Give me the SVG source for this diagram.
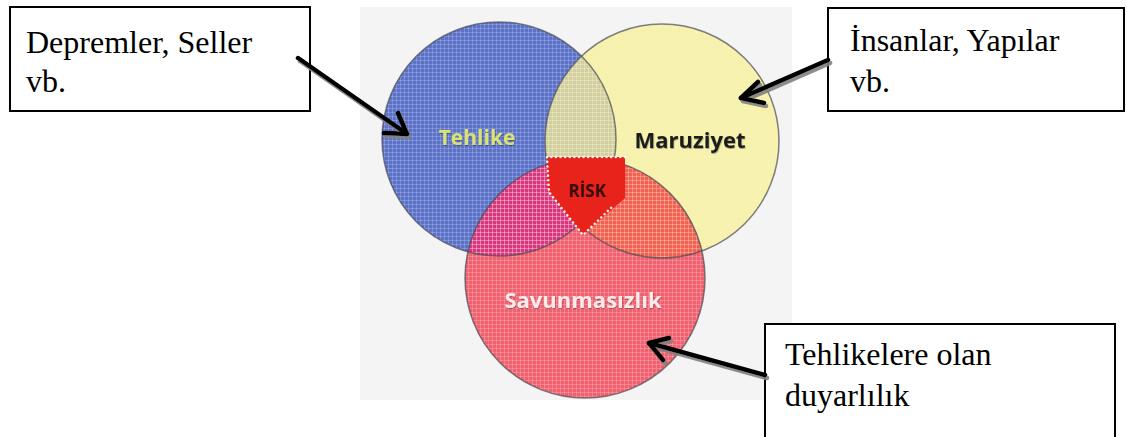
<svg xmlns="http://www.w3.org/2000/svg" width="1127" height="437" viewBox="0 0 1127 437">
<style>
.box{fill:#fff;stroke:#000;stroke-width:2}
.btxt{font-family:"Liberation Serif","Times New Roman",serif;font-size:32px;fill:#000}
.ctxt{font-family:"Open Sans","DejaVu Sans",sans-serif;font-weight:bold;text-anchor:middle}
.ring{fill:none;stroke:#4a4a55;stroke-opacity:0.7;stroke-width:1.5}
.conn{stroke:#000;stroke-width:4.5;fill:none;stroke-linecap:round;stroke-linejoin:round}
</style>
<defs>
<pattern id="grid" width="4" height="4" patternUnits="userSpaceOnUse">
<path d="M0,0.5H4M0.5,0V4" stroke="#fff" stroke-opacity="0.2" stroke-width="1"/>
</pattern>
<clipPath id="cBlue"><circle cx="499" cy="139" r="117"/></clipPath>
<clipPath id="cYellow"><circle cx="662" cy="141" r="117"/></clipPath>
<clipPath id="cRed"><circle cx="585" cy="278" r="120"/></clipPath>
<filter id="shadow" x="-20%" y="-20%" width="140%" height="140%">
<feDropShadow dx="2" dy="3" stdDeviation="0.6" flood-color="#808080" flood-opacity="0.9"/>
</filter>
<filter id="soft" x="-10%" y="-20%" width="120%" height="140%">
<feDropShadow dx="0.5" dy="1" stdDeviation="0.5" flood-color="#000" flood-opacity="0.35"/>
</filter>
</defs>
<rect x="0" y="0" width="1127" height="437" fill="#fff"/>
<rect x="360" y="7" width="432" height="393" fill="#f4f4f4"/>
<g id="tehlike">
<circle cx="499" cy="139" r="117" fill="#5b72c8"/>
</g>
<g id="maruziyet">
<circle cx="662" cy="141" r="117" fill="#f6f1ab"/>
</g>
<g id="savunmasizlik">
<circle cx="585" cy="278" r="120" fill="#f0606e"/>
</g>
<g id="overlaps">
<circle cx="662" cy="141" r="117" fill="#d2cf9c" clip-path="url(#cBlue)"/>
<circle cx="585" cy="278" r="120" fill="#d8357c" clip-path="url(#cBlue)"/>
<circle cx="585" cy="278" r="120" fill="#f0624f" clip-path="url(#cYellow)"/>
<g clip-path="url(#cBlue)"><circle cx="585" cy="278" r="120" fill="#e83a30" clip-path="url(#cYellow)"/></g>
</g>
<g id="texture">
<circle cx="499" cy="139" r="117" fill="url(#grid)"/>
<circle cx="662" cy="141" r="117" fill="url(#grid)" opacity="0.5"/>
<circle cx="585" cy="278" r="120" fill="url(#grid)"/>
<circle cx="499" cy="139" r="117" class="ring"/>
<circle cx="662" cy="141" r="117" class="ring"/>
<circle cx="585" cy="278" r="120" class="ring"/>
</g>
<g id="risk">
<path d="M547,157 L625,157 L625,198 L583,235 L560,207 L548,190 Z" fill="#e8231c"/>
<path d="M625,157 L547,157 L549,192 L583,235 L612,207" fill="none" stroke="#fff" stroke-width="2.5" stroke-dasharray="0.1 4.5" stroke-linecap="round" stroke-opacity="0.9"/>
<text x="587" y="197" class="ctxt" font-size="17" fill="#3a0d0d">RİSK</text>
</g>
<g id="labels" filter="url(#soft)">
<text x="477" y="145" class="ctxt" font-size="21" fill="#d9e273">Tehlike</text>
<text x="690" y="148" class="ctxt" font-size="22" fill="#1e1e1e">Maruziyet</text>
<text x="583" y="308" class="ctxt" font-size="22" fill="#fbeaea">Savunmasızlık</text>
</g>
<g id="box-depremler">
<rect x="10" y="7" width="300" height="104" class="box"/>
<text x="26" y="53" class="btxt">Depremler, Seller</text>
<text x="26" y="92" class="btxt">vb.</text>
</g>
<g id="box-insanlar">
<rect x="828" y="8" width="296" height="103" class="box"/>
<text x="850" y="51" class="btxt">İnsanlar, Yapılar</text>
<text x="850" y="92" class="btxt">vb.</text>
</g>
<g id="box-duyarlilik">
<path d="M765,440 V324 H1115 V440" class="box"/>
<text x="785" y="365" class="btxt">Tehlikelere olan</text>
<text x="785" y="406" class="btxt">duyarlılık</text>
</g>
<g id="connectors" filter="url(#shadow)">
<path class="conn" d="M298,58 L407,134"/>
<path class="conn" d="M384,133 L407,134 L398,113"/>
<path class="conn" d="M828,60 L741,98"/>
<path class="conn" d="M758,82 L741,98 L764,103"/>
<path class="conn" d="M765,375 L649,343"/>
<path class="conn" d="M669,338 L649,343 L663,360"/>
</g>
</svg>
